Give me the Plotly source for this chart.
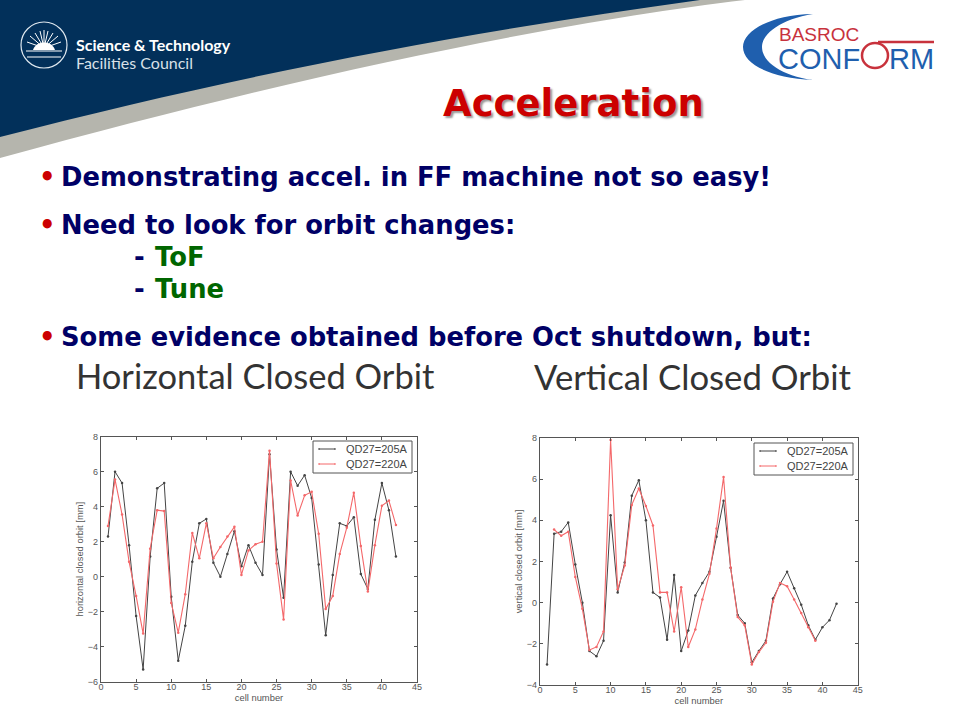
import plotly.graph_objects as go

cells = list(range(1, 43))
h_205 = [2.3, 6, 5.35, 1.8, -2.25, -5.3, 1.15, 5.05, 5.35, -1.15, -4.8, -2.8, 0.85, 3.05, 3.3, 0.8, 0, 1.3, 2.6, 0.6, 1.8,
         0.8, 0.1, 7, 1.55, -1.2, 6, 5.2, 5.8, 4.5, 0.7, -3.35, 0.1, 3.05, 2.9, 3.4, 0.15, -0.7, 3.25, 5.35, 3.8, 1.15]
h_220 = [2.9, 5.55, 3.55, 0.85, -1.1, -3.25, 1.6, 3.8, 3.75, -1.5, -3.2, -1.0, 2.5, 1.05, 3.05, 1.05, 1.7, 2.3, 2.85, 0.1, 1.5,
         1.85, 2, 7.2, 0.75, -2.45, 5.5, 3.5, 4.65, 4.85, 2.45, -1.85, -1.1, 1.3, 2.8, 4.8, 1.75, -0.85, 1.8, 4.05, 4.35, 2.95]
v_205 = [-3, 3.35, 3.45, 3.9, 1.85, 0, -2.35, -2.6, -1.85, 4.25, 0.5, 1.95, 5.2, 5.95, 4, 0.5, 0.25, -1.8, 1.35, -2.35, -1.35,
         0.35, 0.95, 1.5, 3.2, 4.95, 1.7, -0.6, -1, -2.9, -2.35, -1.85, 0.2, 0.9, 1.5, 0.7, -0.1, -1.1, -1.8, -1.2, -0.85, -0.05]
v_cells_220 = list(range(2, 40))
v_220 = [3.55, 3.25, 3.45, 1.25, -0.3, -2.3, -2.15, -1.4, 7.9, 0.65, 1.8, 4.75, 5.55, 4.7, 3.75, 0.5, 0.5, -1.4, 0.75, -2.15,
         -1.3, 0.15, 1.4, 3.6, 6.1, 1.7, -0.7, -1.1, -3, -2.4, -1.95, 0.05, 0.95, 0.8, 0.15, -0.5, -1.2, -1.85]
series_names = ["QD27=205A", "QD27=220A"]
W, H = 960, 720
BLACK, RED = "#444444", "#f4686a"
AXIS, TICKTXT = "#555555", "#555555"


def px(x):
    return x / W


def py(y):
    return 1 - y / H


def path(s):
    return dict(type="path", xref="paper", yref="paper", path=s, line_width=0)


def P(x, y):
    return f"{px(x):.5f},{py(y):.5f}"


def seg(x0, y0, x1, y1, color, width):
    return dict(type="line", xref="paper", yref="paper", x0=px(x0), y0=py(y0), x1=px(x1), y1=py(y1),
                line=dict(color=color, width=width))


fig = go.Figure()


def add_pair(x1, y1, x2, y2, xid, yid):
    common = dict(mode="lines+markers", xaxis=xid, yaxis=yid, showlegend=False, marker=dict(size=2.5))
    fig.add_trace(go.Scatter(x=x1, y=y1, name=series_names[0], line=dict(color=BLACK, width=1), **common))
    fig.add_trace(go.Scatter(x=x2, y=y2, name=series_names[1], line=dict(color=RED, width=1.1), **common))


add_pair(cells, h_205, cells, h_220, "x", "y")
add_pair(cells, v_205, v_cells_220, v_220, "x2", "y2")

axis = dict(showgrid=False, zeroline=False, showline=True, mirror="allticks", ticks="inside", ticklen=3, tickwidth=0.8,
            linecolor=AXIS, linewidth=1.2, tickcolor=AXIS, tickfont=dict(family="Liberation Sans", size=9, color=TICKTXT),
            title_font=dict(family="Liberation Sans", size=9.4, color=TICKTXT), title_standoff=2)
xt = dict(range=[0, 45], dtick=5, title_text="cell number", ticklabelstandoff=-4, **axis)

BLUE_LOGO, RED_LOGO = "#1f5fae", "#c8323c"
shapes = [
    path(f"M{P(0,0)} L{P(745,0)} C{P(560,22)} {P(300,75)} {P(0,158)} Z") | dict(fillcolor="#b5b5ad", layer="below"),
    path(f"M{P(0,0)} L{P(700,0)} C{P(480,30)} {P(250,72)} {P(0,137)} Z") | dict(fillcolor="#02305a", layer="below"),
    path(f"M{P(813,14)} C{P(768,15)} {P(743,32)} {P(743,47)} C{P(743,64)} {P(770,78)} {P(813,80)} "
         f"C{P(782,76)} {P(762,62)} {P(762,47)} C{P(762,33)} {P(782,19)} {P(813,14)} Z") | dict(fillcolor=BLUE_LOGO, layer="below"),
    dict(type="circle", xref="paper", yref="paper", x0=px(21), x1=px(67), y0=py(68), y1=py(22), line=dict(color="#dfe8ef", width=1.2)),
    seg(878, 42, 934, 42, RED_LOGO, 2.5),
    dict(type="circle", xref="paper", yref="paper", x0=px(862), x1=px(888), y0=py(68), y1=py(43), line=dict(color=RED_LOGO, width=2.5)),
]
for dx, dy in [(-14, -12), (-9, -15), (-4, -17), (0, -18), (4, -17), (9, -15), (14, -12), (-17, -6), (17, -6)]:
    shapes.append(seg(44, 48, 44 + dx, 48 + dy, "white", 1))
shapes.append(path(f"M{P(33,50)} C{P(36,40)} {P(52,40)} {P(55,50)} Z") | dict(fillcolor="white"))
shapes.append(seg(26, 51, 62, 51, "white", 1.2))
shapes.append(seg(27, 57, 61, 57, "white", 1.2))


def text(x, y, s, size, color, family="DejaVu Sans", anchor="left", bold=False, **font_extra):
    return dict(xref="paper", yref="paper", x=px(x), y=py(y), xanchor=anchor, yanchor="middle", showarrow=False,
                text=f"<b>{s}</b>" if bold else s, font=dict(family=family, size=size, color=color, **font_extra))


NAVY, GREEN, BULLET = "#000066", "#006600", "#cc0000"
BODY = 25.8
annotations = [
    text(573, 104, "Acceleration", 37, "#cc0000", "DejaVu Sans", "center", True, shadow="2px 2px 2px #999999"),
    text(74, 44.5, "Science &amp; Technology", 16, "white", "Lato", bold=True),
    text(74, 62, "Facilities Council", 16, "#d8e0e8", "Lato"),
    text(777, 34.5, "BASROC", 19, RED_LOGO, "Liberation Sans"),
    text(776, 58.5, "CONF", 29, BLUE_LOGO, "Liberation Sans"),
    text(887, 58.5, "RM", 29, BLUE_LOGO, "Liberation Sans"),
    text(37, 177, "•", BODY, BULLET, bold=True),
    text(59, 177, "Demonstrating accel. in FF machine not so easy!", BODY, NAVY, bold=True),
    text(37, 225, "•", BODY, BULLET, bold=True),
    text(59, 225, "Need to look for orbit changes:", BODY, NAVY, bold=True),
    text(132, 257, "- ", BODY, NAVY, bold=True),
    text(153, 257, "ToF", BODY, GREEN, bold=True),
    text(132, 289, "- ", BODY, NAVY, bold=True),
    text(153, 289, "Tune", BODY, GREEN, bold=True),
    text(37, 337, "•", BODY, BULLET, bold=True),
    text(59, 337, "Some evidence obtained before Oct shutdown, but:", BODY, NAVY, bold=True),
    text(74, 375, "Horizontal Closed Orbit", 34.5, "#333333", "Lato"),
    text(532, 376, "Vertical Closed Orbit", 34.7, "#333333", "Lato"),
]


def add_legend(x0, y0):
    shapes.append(dict(type="rect", xref="paper", yref="paper", x0=px(x0), x1=px(x0 + 99), y0=py(y0), y1=py(y0 + 32),
                       fillcolor="white", line=dict(color=AXIS, width=1)))
    for name, color, dy in zip(series_names, [BLACK, RED], [8, 23]):
        shapes.append(seg(x0 + 6, y0 + dy, x0 + 22, y0 + dy, color, 1))
        shapes.append(seg(x0 + 6, y0 + dy - 1, x0 + 6, y0 + dy + 1, color, 1))
        shapes.append(seg(x0 + 22, y0 + dy - 1, x0 + 22, y0 + dy + 1, color, 1))
        annotations.append(text(x0 + 31, y0 + dy, name, 11, "#444444", "Liberation Sans"))


add_legend(313, 441)
add_legend(754, 443)

fig.update_layout(
    width=W, height=H, margin=dict(l=0, r=0, t=0, b=0, autoexpand=False), paper_bgcolor="white", plot_bgcolor="white",
    showlegend=False,
    xaxis=dict(domain=[px(101), px(417)], anchor="y", **xt),
    yaxis=dict(domain=[py(681.7), py(436.7)], anchor="x", range=[-6, 8], dtick=2,
               title_text="horizontal closed orbit [mm]", **axis),
    xaxis2=dict(domain=[px(540), px(857.7)], anchor="y2", **xt),
    yaxis2=dict(domain=[py(685), py(438)], anchor="x2", range=[-4, 8], dtick=2,
                title_text="vertical closed orbit [mm]", **axis),
    shapes=shapes, annotations=annotations,
)
fig.write_html("out.html", config=dict(displayModeBar=False), post_script="document.body.style.margin='0';")
